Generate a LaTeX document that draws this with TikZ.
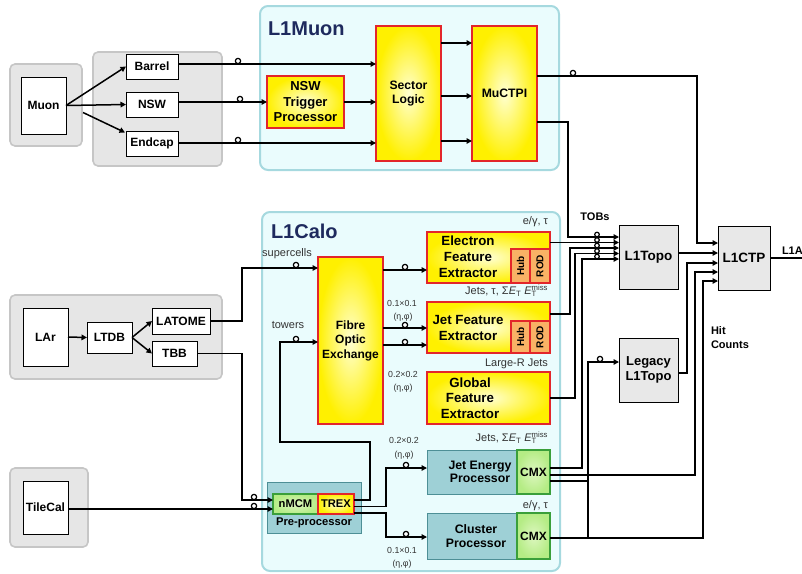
\documentclass[tikz,border=0pt]{standalone}
\usepackage{fontspec}
\setmainfont{Liberation Sans}
\usepackage{graphicx}
\usetikzlibrary{arrows.meta,calc}
\definecolor{grpfill}{HTML}{E6E6E6}
\definecolor{grpdraw}{HTML}{C6C6C6}
\definecolor{cyfill}{HTML}{EAFCFD}
\definecolor{cydraw}{HTML}{A6D9DF}
\definecolor{tealfill}{HTML}{9ED0D6}
\definecolor{tealdraw}{HTML}{4D8F96}
\definecolor{ydraw}{HTML}{E3262A}
\definecolor{gdraw}{HTML}{3A9F3A}
\definecolor{gfillA}{HTML}{DDF7C0}
\definecolor{gfillB}{HTML}{B5EC85}
\definecolor{ofill}{HTML}{F9B265}
\definecolor{navy}{HTML}{1E2A5E}
\definecolor{lbl}{HTML}{333333}
\definecolor{boxgray}{HTML}{E8E8E8}
\definecolor{yin}{HTML}{FFFFD2}
\definecolor{yout}{HTML}{FFF000}
\newcommand\myET{{\itshape E}\textsubscript{T}}
\newcommand\myETmiss{{\itshape E}\rlap{\textsubscript{T}}\textsuperscript{miss}}
\newcommand\fs[2]{\fontsize{#1}{#2}\selectfont}
% box from corner (x1,y1) to (x2,y2), in picture units
\newcommand\bnode[7]{%
  \pgfmathsetmacro\mybw{#5-#3}\pgfmathsetmacro\mybh{#6-#4}%
  \pgfmathsetmacro\mybx{(#3+#5)/2}\pgfmathsetmacro\myby{(#4+#6)/2}%
  \node[#1, minimum width=\mybw pt, minimum height=\mybh pt] (#2) at (\mybx,\myby) {#7};}
\tikzset{
  every node/.style={inner sep=0pt, outer sep=0pt},
  grp/.style={draw=grpdraw, fill=grpfill, line width=1.6pt, rounded corners=5pt},
  frame/.style={draw=cydraw, fill=cyfill, line width=2pt, rounded corners=8pt},
  title/.style={font=\bfseries\fs{20}{24}, text=navy, anchor=west},
  wbox/.style={draw=black, fill=white, line width=1pt, font=\bfseries\fs{12}{14}},
  gbox/.style={draw=black, fill=boxgray, line width=1pt, font=\bfseries\fs{13.5}{14.5}, align=center},
  ybox/.style={draw=ydraw, line width=1.2pt, inner color=yin, outer color=yout, align=center},
  obox/.style={draw=ydraw, fill=ofill, line width=1.1pt, font=\bfseries\fs{10}{12}},
  tbox/.style={draw=tealdraw, fill=tealfill, line width=1pt},
  cmxbox/.style={draw=gdraw, line width=1.1pt, inner color=gfillA, outer color=gfillB, font=\bfseries\fs{12}{14}},
  btext/.style={font=\bfseries\fs{11}{14}, align=center},
  lab/.style={font=\fs{11}{13}, text=lbl},
  small/.style={font=\fs{8.8}{10}, text=lbl},
  conn/.style={line width=1.5pt, black},
  arr/.style={conn, -{Triangle[length=5.5pt,width=5.5pt]}},
  hop/.style={circle, draw=black, fill=white, line width=1.2pt, minimum size=5.3pt},
  tob/.style={hop, minimum size=4.6pt},
}
\begin{document}
\begin{tikzpicture}[x=1pt,y=-1pt]
\useasboundingbox (0,0) rectangle (802,573);
% frames and groups
\bnode{frame}{muonframe}{260}{6}{559}{170}{}
\bnode{frame}{caloframe}{262}{212}{560}{571}{}
\node[title] (muontitle) at (268,29) {L1Muon};
\node[title] (calotitle) at (271,231) {L1Calo};
\bnode{grp}{muongrp}{10}{64}{82}{146}{}
\bnode{grp}{detgrp}{93}{52}{222}{166}{}
\bnode{grp}{largrp}{10}{295}{222}{379}{}
\bnode{grp}{tilegrp}{10}{468}{88}{547}{}
% detector boxes
\bnode{wbox}{muon}{21}{77}{66}{134}{Muon}
\bnode{wbox}{barrel}{126}{54}{178}{79}{Barrel}
\bnode{wbox}{nsw}{126}{92}{178}{117}{NSW}
\bnode{wbox}{endcap}{126}{131}{178}{156}{Endcap}
\bnode{wbox}{lar}{23}{308}{68}{366}{LAr}
\bnode{wbox}{ltdb}{87}{322}{132}{353}{LTDB}
\bnode{wbox}{latome}{152}{308}{210}{334}{LATOME}
\bnode{wbox}{tbb}{152}{341}{197}{366}{TBB}
\bnode{wbox}{tilecal}{23}{481}{68}{534}{TileCal}
% L1Muon
\bnode{ybox, font=\bfseries\fs{13}{15.5}}{nswtp}{267}{76}{344}{128}{NSW\\Trigger\\Processor}
\bnode{ybox, font=\bfseries\fs{12.2}{13.5}}{sl}{376}{26}{441}{161}{Sector\\Logic}
\bnode{ybox, font=\bfseries\fs{12.2}{13.5}}{muctpi}{472}{26}{537}{161}{MuCTPI}
% L1Calo
\bnode{ybox, font=\bfseries\fs{12}{14.5}}{fox}{318}{257}{383}{424}{Fibre\\Optic\\Exchange}
\bnode{ybox}{efex}{427}{232}{550}{283}{}
\bnode{obox}{ehub}{511}{249}{530}{283}{\rotatebox{90}{Hub}}
\bnode{obox}{erod}{530}{249}{550}{283}{\rotatebox{90}{ROD}}
\node[font=\bfseries\fs{13.3}{16}, align=center] (efextxt) at (468,257) {Electron\\Feature\\Extractor};
\bnode{ybox}{jfex}{427}{302}{550}{353}{}
\bnode{obox}{jhub}{511}{321}{530}{353}{\rotatebox{90}{Hub}}
\bnode{obox}{jrod}{530}{321}{550}{353}{\rotatebox{90}{ROD}}
\node[font=\bfseries\fs{13.3}{16}, align=center] (jfextxt) at (468,328) {Jet Feature\\Extractor};
\bnode{ybox}{gfex}{427}{372}{550}{424}{}
\node[font=\bfseries\fs{13.3}{15.5}, align=center] (gfextxt) at (470,398) {Global\\Feature\\Extractor};
\bnode{tbox}{jep}{427}{450}{517}{494}{}
\bnode{cmxbox}{jcmx}{517}{450}{550}{494}{CMX}
\node[font=\bfseries\fs{12.3}{13.5}, align=center] (jeptxt) at (480,472) {Jet Energy\\Processor};
\bnode{tbox}{cp}{427}{513}{517}{559}{}
\bnode{cmxbox}{ccmx}{517}{513}{550}{559}{CMX}
\node[font=\bfseries\fs{12.3}{13.5}, align=center] (cptxt) at (476,536) {Cluster\\Processor};
\bnode{tbox}{ppr}{267}{482}{361}{533}{}
\bnode{cmxbox, font=\bfseries\fs{11.2}{13}}{nmcm}{273}{494}{318}{514}{nMCM}
\bnode{ybox, font=\bfseries\fs{11.2}{13}}{trex}{318}{494}{354}{514}{TREX}
\node[font=\bfseries\fs{11.2}{13}] (pprtxt) at (314,523) {Pre-processor};
% right side
\bnode{gbox}{l1topo}{619}{225}{678}{289}{L1Topo}
\bnode{gbox}{l1ctp}{718}{226}{770}{290}{L1CTP}
\bnode{gbox, font=\bfseries\fs{13}{14.5}}{legacy}{619}{338}{678}{402}{Legacy\\L1Topo}
\node[btext] (tobs) at (595,217) {TOBs};
\node[btext, anchor=west, align=left] (hit) at (711,338) {Hit\\Counts};
\node[btext, anchor=south west] (l1a) at (782,254) {L1A};
\coordinate (l1aend) at (802,258);
% labels
\node[lab] (scl) at (287,254) {supercells};
\node[lab] (twl) at (288,325) {towers};
\node[lab, anchor=east] (egl1) at (548,222) {e/γ, τ};
\node[lab, anchor=east] (jfl) at (548,291) {Jets, τ, Σ\myET\ \myETmiss};
\node[small] (g1a) at (402,303) {0.1×0.1};
\node[small] (g1b) at (403,317) {(η,φ)};
\node[lab, anchor=east] (lrl) at (548,364) {Large-R Jets};
\node[small] (g2a) at (403,374) {0.2×0.2};
\node[small] (g2b) at (403,388) {(η,φ)};
\node[lab, anchor=east] (jel) at (548,438) {Jets, Σ\myET\ \myETmiss};
\node[small] (g3a) at (404,440) {0.2×0.2};
\node[small] (g3b) at (404,455) {(η,φ)};
\node[lab, anchor=east] (egl2) at (548,506) {e/γ, τ};
\node[small] (g4a) at (402,550) {0.1×0.1};
\node[small] (g4b) at (402,564) {(η,φ)};
% muon connectors
\draw[arr] (muon.east) -- (barrel.west);
\draw[arr] (muon.east) -- (nsw.west);
\draw[arr] ($(muon.east)+(17,7)$) -- ($(endcap.west)+(-1,-11)$);
\draw[arr] ([yshift=2.5pt]barrel.east) -- (sl.west |- 0,64);
\draw[arr] ([yshift=2.5pt]nsw.east) -- (nswtp.west);
\draw[arr] (nswtp.east) -- (nswtp.east -| sl.west);
\draw[arr] ([yshift=0.5pt]endcap.east) -- (sl.west |- 0,143);
\draw[arr] (sl.east |- 0,43) -- (muctpi.west |- 0,43);
\draw[arr] (sl.east |- 0,96) -- (muctpi.west |- 0,96);
\draw[arr] (sl.east |- 0,141) -- (muctpi.west |- 0,141);
\draw[arr] (muctpi.east |- 0,76) -- (697,76) -- (697,243) -- (l1ctp.west |- 0,243);
\draw[arr] (muctpi.east |- 0,122) -- (568,122) -- (568,237) -- (l1topo.west |- 0,237);
% LAr / Tile
\draw[arr] (lar.east) -- (ltdb.west);
\draw[arr] (ltdb.east) -- (latome.west);
\draw[arr] (ltdb.east) -- (tbb.west);
\draw[arr] (latome.east) -- (242,321) -- (242,268) -- (fox.west |- 0,268);
\draw[arr] (tbb.east) -- (242,353.5) -- (242,500) -- (nmcm.west |- 0,500);
\draw[arr] (tilecal.east |- 0,509) -- (nmcm.west |- 0,509);
% calo internal
\draw[arr] (trex.east |- 0,500) -- (370,500) -- (370,442) -- (280,442) -- (280,342) -- (fox.west |- 0,342);
\draw[arr] (trex.east |- 0,506.5) -- (386,506.5) -- (386,468) -- (jep.west |- 0,468);
\draw[arr] (trex.east |- 0,513) -- (386,513) -- (386,537) -- (cp.west |- 0,537);
\draw[arr] (fox.east |- 0,270) -- (efex.west |- 0,270);
\draw[arr] (fox.east |- 0,328) -- (jfex.west |- 0,328);
\draw[arr] (fox.east |- 0,345) -- (jfex.west |- 0,345);
% calo outputs
\draw[arr] (erod.east |- 0,242.5) -- (l1topo.west |- 0,242.5);
\draw[arr] (jrod.east |- 0,314) -- (570,314) -- (570,248) -- (l1topo.west |- 0,248);
\draw[arr] (gfex.east) -- (575,398) -- (575,253.5) -- (l1topo.west |- 0,253.5);
\draw[arr] (jcmx.east |- 0,468) -- (582,468) -- (582,259) -- (l1topo.west |- 0,259);
\draw[arr] (jcmx.east |- 0,475) -- (695,475) -- (695,272) -- (l1ctp.west |- 0,272);
\draw[conn] (jcmx.east |- 0,481) -- (588,481);
\draw[arr] (588,538) -- (588,362) -- (legacy.west |- 0,362);
\draw[arr] (ccmx.east |- 0,538) -- (703,538) -- (703,281) -- (l1ctp.west |- 0,281);
\draw[arr] ([yshift=-3pt]legacy.east) -- (687,373) -- (687,263) -- (l1ctp.west |- 0,263);
\draw[arr] (l1topo.east |- 0,253) -- (l1ctp.west |- 0,253);
\draw[conn] (l1ctp.east) -- (l1aend);
% hops
\node[hop] (h1) at (238,61) {};
\node[hop] (h2) at (240,99) {};
\node[hop] (h3) at (238,140) {};
\node[hop] (h4) at (573,73) {};
\node[tob] (t1) at (597,234.5) {};
\node[tob] (t2) at (597,240) {};
\node[tob] (t3) at (597,245.5) {};
\node[tob] (t4) at (597,251) {};
\node[tob] (t5) at (597,256.5) {};
\node[hop] (h5) at (600,359) {};
\node[hop] (h6) at (296,265) {};
\node[hop] (h7) at (405,267) {};
\node[hop] (h8) at (405,325) {};
\node[hop] (h9) at (405,342) {};
\node[hop] (h10) at (296,339) {};
\node[hop] (h11) at (406,465) {};
\node[hop] (h12) at (406,534) {};
\node[hop] (h13) at (254,497) {};
\node[hop] (h14) at (254,506) {};
\end{tikzpicture}
\end{document}
